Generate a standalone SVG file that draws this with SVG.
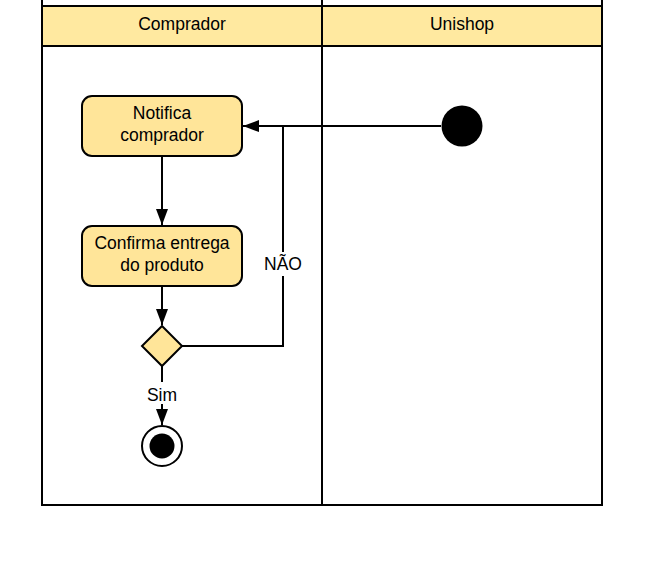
<svg xmlns="http://www.w3.org/2000/svg" width="648" height="561" viewBox="0 0 648 561">
<style>
.ln{stroke:#000;stroke-width:2;fill:none}
.nd{fill:#ffe599;stroke:#000;stroke-width:2}
text{font-family:"Liberation Sans",Arial,sans-serif;font-size:17.5px;fill:#000;text-anchor:middle}
</style>
<defs>
<marker id="ah" markerWidth="16" markerHeight="12" refX="16" refY="6" orient="auto" markerUnits="userSpaceOnUse">
<path d="M0,0 L16,6 L0,12 Z" fill="#000"/>
</marker>
</defs>
<rect width="648" height="561" fill="#fff"/>
<g id="pool">
<rect x="42" y="6" width="560" height="40" fill="#ffe9a0"/>
<line class="ln" x1="42" y1="0" x2="42" y2="506"/>
<line class="ln" x1="322" y1="0" x2="322" y2="506"/>
<line class="ln" x1="602" y1="0" x2="602" y2="506"/>
<line class="ln" x1="41" y1="6" x2="603" y2="6"/>
<line class="ln" x1="41" y1="46" x2="603" y2="46"/>
<line class="ln" x1="41" y1="505" x2="603" y2="505"/>
<text x="182" y="29.5">Comprador</text>
<text x="462" y="29.5">Unishop</text>
</g>
<g id="connectors">
<line class="ln" x1="441" y1="126" x2="243" y2="126" marker-end="url(#ah)"/>
<line class="ln" x1="162" y1="156" x2="162" y2="225" marker-end="url(#ah)"/>
<line class="ln" x1="162" y1="286" x2="162" y2="325" marker-end="url(#ah)"/>
<polyline class="ln" points="182,346 283,346 283,276"/>
<line class="ln" x1="283" y1="252" x2="283" y2="126"/>
<text x="283" y="269.5">NÃO</text>
<line class="ln" x1="162" y1="366" x2="162" y2="382"/>
<line class="ln" x1="162" y1="404" x2="162" y2="425" marker-end="url(#ah)"/>
<text x="162" y="400.5">Sim</text>
</g>
<g id="start"><circle cx="462" cy="126" r="20.5" fill="#000"/></g>
<g id="notifica">
<rect class="nd" x="82" y="96" width="160" height="60" rx="10"/>
<text x="162" y="119">Notifica</text>
<text x="162" y="141">comprador</text>
</g>
<g id="confirma">
<rect class="nd" x="82" y="226" width="160" height="60" rx="10"/>
<text x="162" y="249">Confirma entrega</text>
<text x="162" y="271">do produto</text>
</g>
<g id="decision"><polygon class="nd" points="162,326 182,346 162,366 142,346"/></g>
<g id="end">
<circle cx="162" cy="446" r="20" fill="#fff" stroke="#000" stroke-width="2"/>
<circle cx="162" cy="446" r="12.5" fill="#000"/>
</g>
</svg>
